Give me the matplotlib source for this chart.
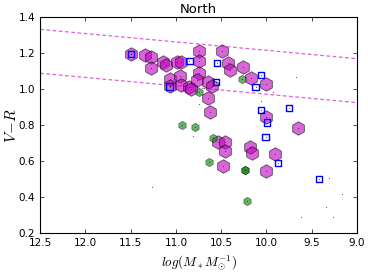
import numpy as np
import matplotlib
matplotlib.use("Agg")
import matplotlib.pyplot as plt

plt.rcParams['mathtext.fontset'] = 'cm'
plt.rcParams['font.family'] = ['DejaVu Sans']

# magenta hexagons (log M*, V-R)
MAG_X = [11.50, 11.34, 11.28, 11.27, 11.14, 11.11, 10.99, 10.94, 10.75, 10.75,
         10.75, 10.49, 10.43, 10.40, 10.26, 10.17, 10.01, 11.06, 10.95, 11.07,
         10.94, 10.86, 10.83, 10.77, 10.65, 10.60, 10.65, 10.62, 10.01, 9.65,
         10.53, 10.46, 10.46, 10.18, 10.16, 9.91, 10.48, 10.00]
MAG_Y = [1.197, 1.19, 1.18, 1.118, 1.155, 1.136, 1.15, 1.155, 1.216, 1.16,
         1.093, 1.216, 1.145, 1.108, 1.123, 1.062, 1.029, 1.058, 1.075, 1.019,
         1.025, 1.012, 1.001, 1.053, 1.043, 1.019, 0.951, 0.877, 0.845, 0.784,
         0.71, 0.71, 0.66, 0.682, 0.645, 0.642, 0.575, 0.549]

# green hexagons
GRN_X = [10.27, 10.74, 10.93, 10.79, 10.59, 10.63, 10.24, 10.24, 10.22]
GRN_Y = [1.058, 0.988, 0.803, 0.793, 0.729, 0.596, 0.553, 0.553, 0.382]

# blue open squares
BLU_X = [11.50, 10.85, 10.55, 10.56, 11.07, 10.06, 10.12, 10.06, 9.75, 9.99,
         10.01, 9.87, 9.42]
BLU_Y = [1.197, 1.158, 1.149, 1.04, 1.016, 1.081, 1.012, 0.886, 0.895, 0.816,
         0.734, 0.59, 0.501]

# remaining galaxies (small dots only)
DOT_X = [11.26, 9.31, 9.17, 9.34, 9.62, 9.27, 9.67, 10.81, 10.75, 10.06, 9.93]
DOT_Y = [0.457, 0.507, 0.42, 0.346, 0.293, 0.29, 1.068, 0.742, 0.92, 0.938, 0.988]

# dashed boundary lines
LINE_X = [12.5, 9.0]
UPPER_Y = [1.334, 1.171]
LOWER_Y = [1.09, 0.927]

fig = plt.figure(figsize=(3.68, 2.73), dpi=100)
ax = fig.add_axes([0.109, 0.145, 0.861, 0.791])

ax.plot(LINE_X, UPPER_Y, '--', color='#e060e0', lw=0.9, dashes=(3, 2))
ax.plot(LINE_X, LOWER_Y, '--', color='#e060e0', lw=0.9, dashes=(3, 2))

ax.scatter(MAG_X, MAG_Y, marker='h', s=95, c='m', alpha=0.6,
           edgecolors='k', linewidths=0.6, zorder=3)
ax.scatter(GRN_X, GRN_Y, marker='h', s=36, c='g', alpha=0.6,
           edgecolors='k', linewidths=0.4, zorder=3)
ax.scatter(BLU_X, BLU_Y, marker='s', s=20, facecolors='none',
           edgecolors='b', linewidths=1.0, zorder=4)

all_x = MAG_X + GRN_X + BLU_X + DOT_X
all_y = MAG_Y + GRN_Y + BLU_Y + DOT_Y
ax.scatter(all_x, all_y, marker='.', s=1, c='k', lw=0, zorder=5)

ax.set_xlim(12.5, 9.0)
ax.set_ylim(0.2, 1.4)
ax.set_xticks(np.arange(9.0, 12.51, 0.5))
ax.set_yticks(np.arange(0.2, 1.41, 0.2))
ax.tick_params(direction='in', top=True, right=True, labelsize=7.5,
               length=3, width=0.5)
for sp in ax.spines.values():
    sp.set_linewidth(0.8)

ax.set_title("North", fontsize=9.5, pad=3)
ax.set_xlabel(r"$log(M_*M_{\odot}^{-1})$", fontsize=9.5)
ax.set_ylabel(r"$V\!-\!R$", fontsize=11, labelpad=0)

fig.savefig("out.png", dpi=100)
